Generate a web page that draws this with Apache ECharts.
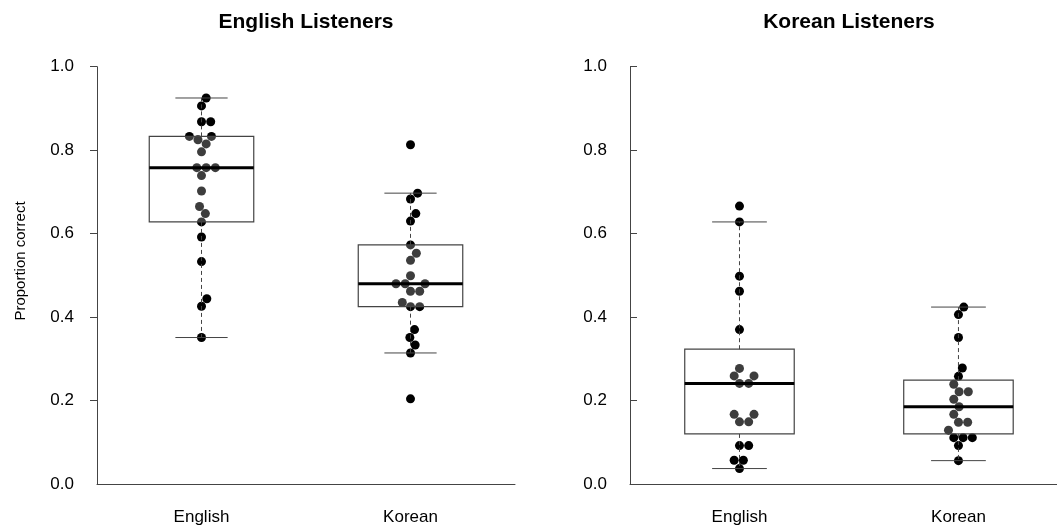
<!DOCTYPE html>
<html>
<head>
<meta charset="utf-8">
<script src="https://cdn.jsdelivr.net/npm/echarts@6/dist/echarts.min.js"></script>
<style>
  html, body { margin: 0; padding: 0; background: #ffffff; }
  #chart { width: 1057px; height: 528px; }
</style>
</head>
<body>
<div id="chart"></div>
<script>
// ---- Data -------------------------------------------------------------
const categories = ['English', 'Korean'];
const panelTitles = ['English Listeners', 'Korean Listeners'];
const yTickValues = [0, 0.2, 0.4, 0.6, 0.8, 1.0];
const yAxisName = 'Proportion correct';

// Individual listener scores (proportion correct)
const engListenersEnglish = [0.925, 0.906, 0.868, 0.868, 0.833, 0.833, 0.825, 0.815, 0.796, 0.758, 0.758, 0.758,
                             0.739, 0.702, 0.665, 0.648, 0.628, 0.592, 0.533, 0.444, 0.426, 0.351];
const engListenersKorean  = [0.813, 0.697, 0.683, 0.648, 0.630, 0.573, 0.553, 0.536, 0.499, 0.480, 0.480, 0.480,
                             0.462, 0.462, 0.435, 0.425, 0.425, 0.370, 0.351, 0.333, 0.314, 0.204];
const korListenersEnglish = [0.666, 0.628, 0.498, 0.462, 0.370, 0.277, 0.259, 0.259, 0.241, 0.241,
                             0.167, 0.167, 0.149, 0.149, 0.092, 0.092, 0.057, 0.057, 0.037];
const korListenersKorean  = [0.424, 0.406, 0.351, 0.278, 0.258, 0.239, 0.221, 0.221, 0.203, 0.185,
                             0.167, 0.148, 0.148, 0.129, 0.111, 0.111, 0.111, 0.092, 0.056];

// Box summaries: [lower whisker, lower hinge, median, upper hinge, upper whisker]
const engListenersEnglishBox = [0.351, 0.628, 0.758, 0.833, 0.925];
const engListenersKoreanBox  = [0.314, 0.425, 0.480, 0.573, 0.697];
const korListenersEnglishBox = [0.037, 0.120, 0.241, 0.323, 0.628];
const korListenersKoreanBox  = [0.056, 0.120, 0.185, 0.249, 0.424];

// ---- Layout & style ---------------------------------------------------
const FONT = '"Liberation Sans", Arial, Helvetica, sans-serif';
const AXIS_COLOR = '#444444';
const DOT_SIZE = 9;      // dot diameter, px
const SWARM_GAP = 9.2;   // minimum centre distance between dots, px

// Group positions sit at x = 0 and x = 1; each panel spans one unit per group.
// The right panel runs off the page edge, so its x range is cut short at the border.
const panels = [
  {
    title: panelTitles[0],
    groups: [engListenersEnglish, engListenersKorean],
    boxes: [engListenersEnglishBox, engListenersKoreanBox],
    grid: { left: 97, top: 66.7, width: 418, height: 417.3 },
    xRange: [-0.5, 1.5],
    tickInside: false
  },
  {
    title: panelTitles[1],
    groups: [korListenersEnglish, korListenersKorean],
    boxes: [korListenersEnglishBox, korListenersKoreanBox],
    grid: { left: 630, top: 66.7, width: 427, height: 417.3 },
    xRange: [-0.5, 1.45],
    tickInside: true
  }
];

// Beeswarm ("swarm", ascending priority): each dot keeps its value and is
// shifted sideways to the free position closest to the centre line.
function swarmOffsets(values, pxPerUnit) {
  const order = values.map((v, i) => i).sort((a, b) => values[a] - values[b]);
  const placed = [];
  const offsets = new Array(values.length);
  const g2 = SWARM_GAP * SWARM_GAP;
  for (const idx of order) {
    const y = values[idx] * pxPerUnit;
    const near = placed.filter(p => Math.abs(p.y - y) < SWARM_GAP);
    const cands = [0];
    near.forEach(p => {
      const dx = Math.sqrt(g2 - (p.y - y) * (p.y - y));
      cands.push(p.x + dx, p.x - dx);
    });
    let best = null;
    for (const c of cands) {
      const ok = near.every(p => (p.x - c) * (p.x - c) + (p.y - y) * (p.y - y) >= g2 - 1e-6);
      if (ok && (best === null || Math.abs(c) < Math.abs(best) - 1e-9)) best = c;
    }
    placed.push({ x: best, y: y });
    offsets[idx] = best;
  }
  return offsets;
}

function renderBox(params, api) {
  const cat = api.value(0);
  const lo = api.coord([cat, api.value(1)]);
  const q1 = api.coord([cat, api.value(2)]);
  const md = api.coord([cat, api.value(3)]);
  const q3 = api.coord([cat, api.value(4)]);
  const hi = api.coord([cat, api.value(5)]);
  const band = api.size([1, 0])[0];   // pixels per group slot
  const hw = band * 0.25;   // half box width
  const cw = band * 0.125;  // half whisker-cap width
  const x = lo[0];
  const thin = { stroke: AXIS_COLOR, lineWidth: 1 };
  const dashed = { stroke: AXIS_COLOR, lineWidth: 1, lineDash: [4, 3] };
  return {
    type: 'group',
    children: [
      { type: 'line', shape: { x1: x, y1: q3[1], x2: x, y2: hi[1] }, style: dashed },
      { type: 'line', shape: { x1: x, y1: q1[1], x2: x, y2: lo[1] }, style: dashed },
      { type: 'line', shape: { x1: x - cw, y1: hi[1], x2: x + cw, y2: hi[1] }, style: thin },
      { type: 'line', shape: { x1: x - cw, y1: lo[1], x2: x + cw, y2: lo[1] }, style: thin },
      {
        type: 'rect',
        shape: { x: x - hw, y: q3[1], width: 2 * hw, height: q1[1] - q3[1] },
        style: { fill: 'rgba(255,255,255,0.24)', stroke: AXIS_COLOR, lineWidth: 1.2 }
      },
      { type: 'line', shape: { x1: x - hw, y1: md[1], x2: x + hw, y2: md[1] }, style: { stroke: '#000', lineWidth: 3 } }
    ]
  };
}

const series = [];
panels.forEach((p, pi) => {
  const pxPerUnit = p.grid.height;
  const dots = [];
  p.groups.forEach((vals, ci) => {
    const offs = swarmOffsets(vals, pxPerUnit);
    vals.forEach((v, k) => dots.push({ value: [ci, v], symbolOffset: [offs[k], 0] }));
  });
  series.push({
    type: 'scatter',
    xAxisIndex: pi, yAxisIndex: pi,
    symbol: 'circle', symbolSize: DOT_SIZE,
    itemStyle: { color: '#000000', opacity: 1 },
    data: dots,
    z: 2,
    silent: true
  });
  series.push({
    type: 'custom',
    xAxisIndex: pi, yAxisIndex: pi,
    renderItem: renderBox,
    encode: { x: 0, y: [1, 2, 3, 4, 5] },
    data: p.boxes.map((b, ci) => [ci].concat(b)),
    z: 3,
    clip: false,
    silent: true
  });
});

const graphics = panels.map(p => ({
  type: 'text',
  x: p.grid.left + (p.grid.width * (0.5 - p.xRange[0]) / (p.xRange[1] - p.xRange[0])),
  y: 22.5,
  style: {
    text: p.title, fill: '#000',
    fontSize: 21, fontWeight: 'bold', fontFamily: FONT,
    align: 'center', verticalAlign: 'middle',
    textAlign: 'center', textVerticalAlign: 'middle'
  }
}));
graphics.push({
  type: 'text',
  x: 21, y: 261,
  rotation: Math.PI / 2,
  style: {
    text: yAxisName, fill: '#000',
    fontSize: 15, fontFamily: FONT,
    align: 'center', verticalAlign: 'middle',
    textAlign: 'center', textVerticalAlign: 'middle'
  }
});

const chart = echarts.init(document.getElementById('chart'), null, { renderer: 'canvas' });
chart.setOption({
  animation: false,
  backgroundColor: '#ffffff',
  grid: panels.map(p => Object.assign({ containLabel: false }, p.grid)),
  xAxis: panels.map((p, i) => ({
    type: 'value',
    gridIndex: i,
    min: p.xRange[0],
    max: p.xRange[1],
    axisLine: { show: true, onZero: false, lineStyle: { color: AXIS_COLOR, width: 1 } },
    axisTick: { show: false },
    axisLabel: {
      fontSize: 17, color: '#000', fontFamily: FONT, margin: 25,
      showMinLabel: true, showMaxLabel: true,
      customValues: categories.map((c, k) => k),
      formatter: v => categories[Math.round(v)]
    },
    splitLine: { show: false }
  })),
  yAxis: panels.map((p, i) => ({
    type: 'value',
    gridIndex: i,
    min: yTickValues[0],
    max: yTickValues[yTickValues.length - 1],
    interval: 0.2,
    axisLine: { show: true, onZero: false, lineStyle: { color: AXIS_COLOR, width: 1 } },
    axisTick: {
      show: true, inside: p.tickInside, length: 7,
      customValues: p.tickInside ? yTickValues : yTickValues.slice(1),
      lineStyle: { color: AXIS_COLOR, width: 1 }
    },
    axisLabel: {
      fontSize: 17, color: '#000', fontFamily: FONT, margin: 23,
      customValues: yTickValues,
      formatter: v => Number(v).toFixed(1)
    },
    splitLine: { show: false }
  })),
  graphic: graphics,
  series: series
});
</script>
</body>
</html>
